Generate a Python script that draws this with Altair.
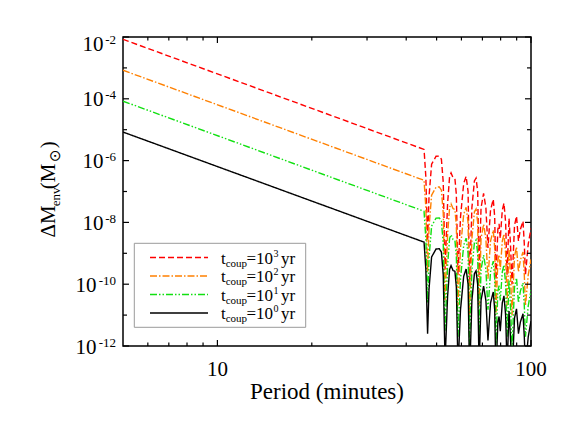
import altair as alt
import pandas as pd

# ---------------- data ----------------
# Period (minutes) and Delta M_env for t_coup = 10^0 yr (black curve)
period = [5.0, 45.6, 46.2, 46.8, 47.3, 48.2, 49.8, 51.0, 51.8, 52.5,
          53.2, 54.2, 55.0, 55.6, 56.4, 57.2, 57.8, 58.5, 59.6, 61.0,
          62.1, 63.0, 63.7, 64.8, 66.0, 66.8, 67.6, 68.3, 69.3, 70.6,
          71.8, 72.9, 74.3, 75.8, 76.6, 77.3, 78.4, 79.1, 79.8, 81.0,
          82.0, 83.0, 83.9, 85.1, 86.0, 87.0, 88.6, 89.9, 91.2, 92.5,
          94.3, 95.2, 96.0, 98.0, 100.0]
dm_tcoup1 = [8.4e-6, 2.3e-9, 3.0e-10, 2.5e-12, 7e-11, 7.6e-10, 1.38e-9, 1.4e-9, 1.1e-9, 2e-10,
             3e-13, 4e-11, 3e-10, 4e-10, 2.8e-10, 2.6e-10, 8e-11, 2e-13, 1.5e-11, 1.8e-10,
             3.1e-10, 1e-10, 1e-13, 3e-11, 2.2e-10, 2.7e-10, 1e-10, 2e-13, 3e-11, 8.7e-11,
             3e-11, 1.5e-12, 2.5e-11, 5.6e-11, 1.5e-11, 1e-13, 6e-12, 9e-12, 3e-12, 2.5e-11,
             4.2e-11, 1e-11, 2e-13, 1.35e-11, 2e-12, 1e-13, 8e-12, 1.6e-11, 2.5e-12, 6e-12,
             1.1e-11, 2e-12, 2e-13, 2e-12, 6.4e-12]

# the curves for larger coupling times are the same curve shifted by t_coup
t_coup_yr = [1000, 100, 10, 1]
legend_exp = ["3", "2", "1", "0"]
series_colors = ["#ff0000", "#ff8000", "#11e011", "#000000"]
series_dash = [[6, 3], [7, 2, 1.5, 2], [7, 2, 1.5, 2, 1.5, 2], [1, 0]]

x_major = [10, 100]
x_minor = [6, 7, 8, 9, 20, 30, 40, 50, 60, 70, 80, 90]
x_labels = [10, 100]
y_major_exp = [-2, -4, -6, -8, -10, -12]
y_minor_exp = [-3, -5, -7, -9, -11]

# ---------------- layout ----------------
W, H = 408, 309
FONT = "Liberation Serif"
xscale = alt.Scale(type="log", domain=[5, 100], nice=False)
yscale = alt.Scale(type="log", domain=[1e-12, 1e-2], nice=False)

layers = []

# curves
for f, c, d in zip(t_coup_yr, series_colors, series_dash):
    df = pd.DataFrame({"period": period, "dm": [v * f for v in dm_tcoup1]})
    layers.append(
        alt.Chart(df).mark_line(clip=True, color=c, strokeWidth=1.4, strokeDash=d).encode(
            x=alt.X("period:Q", scale=xscale, axis=None),
            y=alt.Y("dm:Q", scale=yscale, axis=None),
        )
    )

# inward ticks on all four sides
def xticks(vals, L):
    df = pd.DataFrame({"tv": vals})
    out = []
    for y, y2 in [(H, H - L), (0, L)]:
        out.append(alt.Chart(df).mark_rule(color="black", strokeWidth=1.2).encode(
            x=alt.X("tv:Q", scale=xscale, axis=None), y=alt.value(y), y2=alt.value(y2)))
    return out

def yticks(exps, L):
    df = pd.DataFrame({"tv": [10.0 ** e for e in exps]})
    out = []
    for x, x2 in [(0, L), (W, W - L)]:
        out.append(alt.Chart(df).mark_rule(color="black", strokeWidth=1.2).encode(
            y=alt.Y("tv:Q", scale=yscale, axis=None), x=alt.value(x), x2=alt.value(x2)))
    return out

layers += xticks(x_major, 6) + xticks(x_minor, 3.5)
layers += yticks(y_major_exp, 6) + yticks(y_minor_exp, 4)

# x tick labels
layers.append(
    alt.Chart(pd.DataFrame({"tv": x_labels, "lab": [str(v) for v in x_labels]}))
    .mark_text(font=FONT, fontSize=21, align="center", baseline="alphabetic", color="black")
    .encode(x=alt.X("tv:Q", scale=xscale, axis=None), y=alt.value(339), text="lab:N")
)

# y tick labels: "10" with superscript exponent
def ylabels(exps, base_right, dy):
    df = pd.DataFrame({"tv": [10.0 ** e for e in exps], "e": [str(e) for e in exps]})
    base = alt.Chart(df).mark_text(font=FONT, fontSize=21, align="right", baseline="alphabetic",
                                   color="black", dy=7.5 + dy, text="10").encode(
        y=alt.Y("tv:Q", scale=yscale, axis=None), x=alt.value(base_right))
    sup = alt.Chart(df).mark_text(font=FONT, fontSize=13, align="right", baseline="alphabetic",
                                  color="black", dy=0.5 + dy).encode(
        y=alt.Y("tv:Q", scale=yscale, axis=None), x=alt.value(-7), text="e:N")
    return [base, sup]

layers += ylabels([e for e in y_major_exp if e == -2], -19.5, 6.5)
layers += ylabels([e for e in y_major_exp if -10 < e < -2], -19.5, 0)
layers += ylabels([e for e in y_major_exp if e <= -10], -26.5, 0)

def txt(s, x, y, size, align="left", angle=None, font=FONT):
    kw = dict(text=s, align=align, baseline="alphabetic", font=font, fontSize=size, color="black")
    if angle is not None:
        kw["angle"] = angle
    return alt.Chart(alt.Data(values=[{}])).mark_text(**kw).encode(x=alt.value(x), y=alt.value(y))

# axis titles
layers.append(txt("Period (minutes)", W / 2, 362, 23, align="center"))
layers.append(txt("\u0394M", -68, 184.5, 21, align="center", angle=270))
layers.append(txt("env", -63.5, 159.8, 13, align="center", angle=270))
layers.append(txt("(M", -68, 139.5, 21, align="center", angle=270))
layers.append(txt("\u2299", -63, 118.7, 15, align="center", angle=270, font="DejaVu Sans"))
layers.append(txt(")", -68, 107.8, 21, align="center", angle=270))

# legend
layers.append(alt.Chart(alt.Data(values=[{}])).mark_rect(fill="white", stroke="#9a9a9a", strokeWidth=1).encode(
    x=alt.value(11.3), x2=alt.value(182.7), y=alt.value(206.3), y2=alt.value(290.3)))
for i, (ex, c, d) in enumerate(zip(legend_exp, series_colors, series_dash)):
    ly = 220.5 + 18.5 * i
    layers.append(alt.Chart(alt.Data(values=[{}])).mark_rule(color=c, strokeWidth=1.4, strokeDash=d).encode(
        x=alt.value(27), x2=alt.value(85), y=alt.value(ly)))
    layers.append(txt("t", 98, ly + 6, 17))
    layers.append(txt("coup", 102.7, ly + 9, 11))
    layers.append(txt("=10", 123.5, ly + 6, 17))
    layers.append(txt(ex, 150.5, ly - 0.7, 10))
    layers.append(txt("yr", 158, ly + 6, 17))

chart = alt.layer(*layers).properties(
    width=W, height=H,
    padding={"left": 30, "top": 26, "right": 10, "bottom": 10},
).configure(font=FONT).configure_text(font=FONT).configure_view(stroke="black", strokeWidth=1.5)

chart.save("out.html", embed_options={"renderer": "svg", "actions": False})
